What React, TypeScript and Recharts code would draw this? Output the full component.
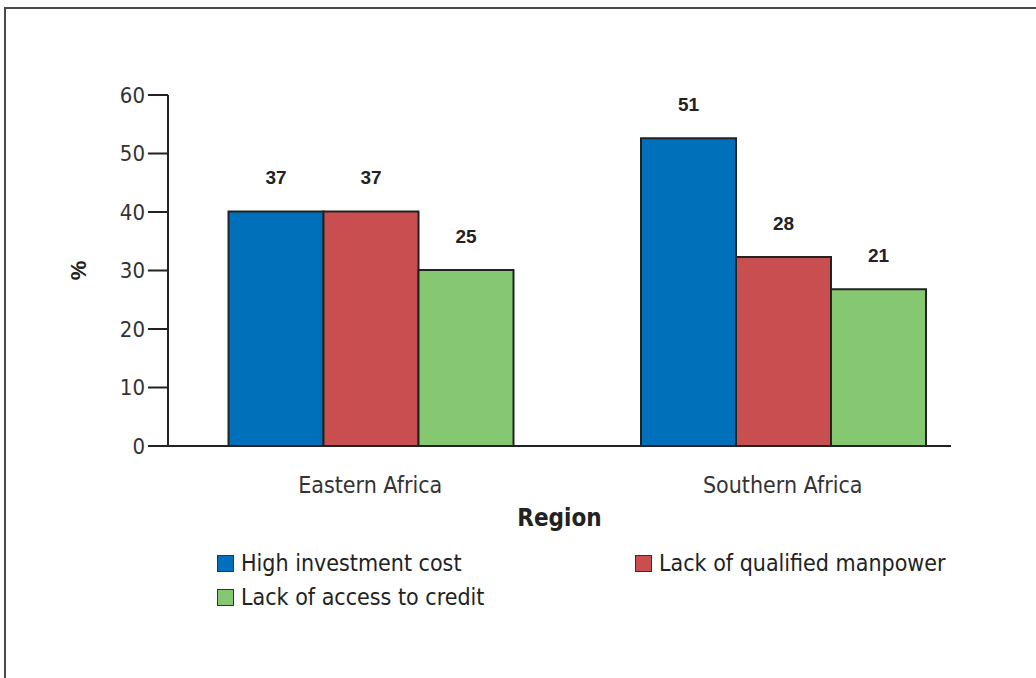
import React from "react";
import { BarChart, Bar, XAxis, YAxis, LabelList } from "recharts";

const regions = ["Eastern Africa", "Southern Africa"];
// bar heights as drawn against the % axis
const highInvestment = [40.1, 52.6];
const lackManpower = [40.1, 32.3];
const lackCredit = [30.1, 26.8];
// numbers printed above the bars
const highInvestmentLabels = ["37", "51"];
const lackManpowerLabels = ["37", "28"];
const lackCreditLabels = ["25", "21"];
const yTicks = [0, 10, 20, 30, 40, 50, 60];

const series = [
  { key: "high", label: "labHigh", name: "High investment cost", color: "#0070BA" },
  { key: "manpower", label: "labManpower", name: "Lack of qualified manpower", color: "#C84E50" },
  { key: "credit", label: "labCredit", name: "Lack of access to credit", color: "#86C771" },
];

const data = regions.map((r, i) => ({
  region: r,
  high: highInvestment[i],
  manpower: lackManpower[i],
  credit: lackCredit[i],
  labHigh: highInvestmentLabels[i],
  labManpower: lackManpowerLabels[i],
  labCredit: lackCreditLabels[i],
}));

const narrow = '"DejaVu Sans Condensed", "DejaVu Sans", sans-serif';
const bold = '"Liberation Sans", Arial, sans-serif';

function LegendBox() {
  return (
    <div
      style={{
        position: "absolute",
        left: 217,
        top: 550,
        display: "grid",
        gridTemplateColumns: "418px 340px",
        rowGap: 8,
        fontFamily: narrow,
        fontSize: 23,
        color: "#222",
      }}
    >
      {series.map((s) => (
        <div key={s.key} style={{ display: "flex", alignItems: "center", height: 26 }}>
          <span
            style={{
              display: "inline-block",
              width: 15,
              height: 15,
              background: s.color,
              border: "1.5px solid #333",
              marginRight: 7,
            }}
          />
          {s.name}
        </div>
      ))}
    </div>
  );
}

export default function App() {
  return (
    <div
      style={{
        position: "absolute",
        left: 0,
        top: 0,
        width: 1036,
        height: 678,
        overflow: "hidden",
        background: "#fff",
      }}
    >
      <div
        style={{
          position: "absolute",
          left: 4,
          top: 7,
          width: 1100,
          height: 800,
          border: "2px solid #4a4a4a",
        }}
      />
      <div style={{ position: "absolute", left: 0, top: 0 }}>
        <BarChart
          width={1036}
          height={678}
          data={data}
          margin={{ top: 95, right: 85, left: 68, bottom: 202 }}
          barGap={0}
          barCategoryGap={64.5}
        >
          <XAxis
            dataKey="region"
            padding={{ left: -4, right: -38 }}
            axisLine={{ stroke: "#222", strokeWidth: 2 }}
            tickLine={false}
            tickMargin={25}
            tick={{ fontSize: 23, fill: "#333", fontFamily: narrow }}
            label={{
              content: ({ viewBox }: any) => (
                <text
                  x={viewBox.x + viewBox.width / 2}
                  y={viewBox.y + 72}
                  textAnchor="middle"
                  dominantBaseline="central"
                  fontFamily={narrow}
                  fontWeight="bold"
                  fontSize={24}
                  fill="#222"
                >
                  Region
                </text>
              ),
            }}
          />
          <YAxis
            domain={[0, 60]}
            ticks={yTicks}
            width={100}
            axisLine={{ stroke: "#222", strokeWidth: 2 }}
            tickLine={{ stroke: "#222", strokeWidth: 2 }}
            tickSize={20}
            tickMargin={3}
            tick={{ fontSize: 22, fill: "#333", fontFamily: narrow }}
            label={{
              content: ({ viewBox }: any) => {
                const x = viewBox.x + 10;
                const y = viewBox.y + viewBox.height / 2;
                return (
                  <text
                    x={x}
                    y={y}
                    transform={`rotate(-90 ${x} ${y})`}
                    textAnchor="middle"
                    dominantBaseline="central"
                    fontFamily={bold}
                    fontWeight="bold"
                    fontSize={22}
                    fill="#222"
                  >
                    %
                  </text>
                );
              },
            }}
          />
          {series.map((s) => (
            <Bar
              key={s.key}
              dataKey={s.key}
              name={s.name}
              fill={s.color}
              stroke="#222"
              strokeWidth={2}
              isAnimationActive={false}
            >
              <LabelList
                dataKey={s.label}
                position="top"
                offset={27}
                style={{ fontFamily: bold, fontWeight: "bold", fontSize: 19, fill: "#222" }}
              />
            </Bar>
          ))}
        </BarChart>
      </div>
      <LegendBox />
    </div>
  );
}
